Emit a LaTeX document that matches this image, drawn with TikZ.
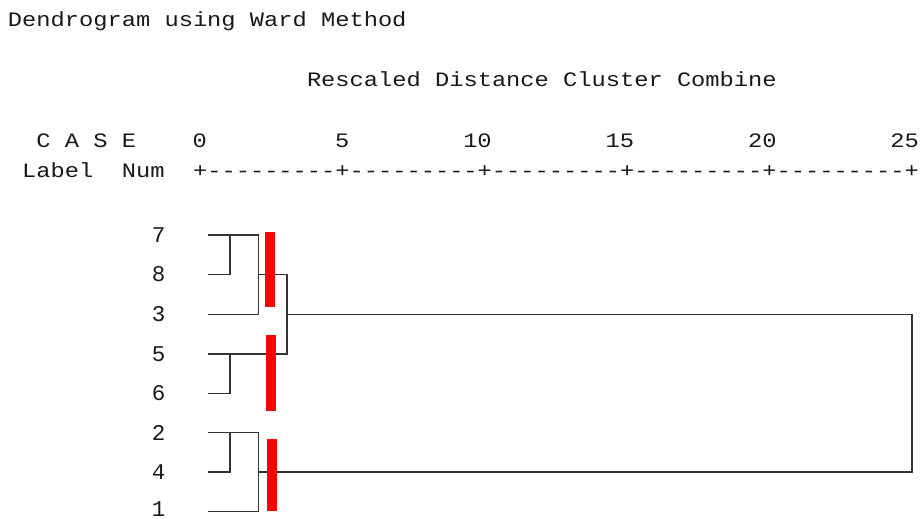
\documentclass[tikz,border=0pt]{standalone}
\usepackage{fontspec}
\setmonofont[FakeStretch=1.157]{Liberation Mono}
\newfontfamily\leaffont{Liberation Mono}
\begin{document}
\begin{tikzpicture}[x=1pt,y=-1pt,
  txt/.style={font=\ttfamily\fontsize{20.5}{21}\selectfont, inner sep=0pt, anchor=base west, text=black!90},
  tick/.style={txt, anchor=base east},
  leaf/.style={font=\leaffont\fontsize{22.5}{23}\selectfont, inner sep=0pt, anchor=east, text=black!90},
  dend/.style={line width=1.4pt, draw=black!80},
  cut/.style={fill=red, draw=none}]
\useasboundingbox[fill=white] (0,0) rectangle (921,519);
% header texts
\node[txt] (title) at (7.8,27) {Dendrogram using Ward Method};
\node[txt] (sub) at (306.8,86) {Rescaled Distance Cluster Combine};
\node[txt] (case) at (36.2,147.5) {C A S E};
\node[txt] (lab) at (22,177) {Label\ \ Num};
\node[txt] (axis) at (192.9,177) {+---------+---------+---------+---------+---------+};
\foreach \v [count=\k from 0] in {0,5,10,15,20,25}
  \node[tick] (t\v) at ({207.12+142.4*\k},147.5) {\v};
% leaf labels
\foreach \n/\y in {7/235,8/274.5,3/314.5,5/354,6/393.5,2/432.5,4/472,1/509.5}{
  \node[leaf] (n\n) at (165.5,\y) {\n};
}
\foreach \n/\y in {7/235,8/274.5,3/314.5,5/354,6/393.5,2/432.5,4/472,1/511.5}{
  \coordinate (L\n) at (208,\y);
}
% join points
\coordinate (a78) at (230,235);
\coordinate (a56) at (230,354);
\coordinate (a24) at (230,432.5);
\coordinate (b783) at (258.5,235);
\coordinate (c783) at (258.5,274.5);
\coordinate (b241) at (258.5,432.5);
\coordinate (c241) at (258.5,472);
\coordinate (d) at (287,274.5);
\coordinate (e) at (287,314.5);
\coordinate (top) at (912,314.5);
\coordinate (bot) at (912,472);
% dendrogram
\draw[dend] (L7) -- (b783) |- (L3);
\draw[dend] (L8) -| (a78);
\draw[dend] (c783) -| (d) |- (L5);
\draw[dend] (L6) -| (a56);
\draw[dend] (e) -- (top) -- (bot) -- (c241);
\draw[dend] (L2) -- (b241) |- (L1);
\draw[dend] (L4) -| (a24);
% red cut marks
\fill[cut] (265.3,231.7) rectangle (274.7,306.7);
\fill[cut] (266,335.3) rectangle (275.7,410.7);
\fill[cut] (267,439) rectangle (276.7,511);
\end{tikzpicture}
\end{document}
